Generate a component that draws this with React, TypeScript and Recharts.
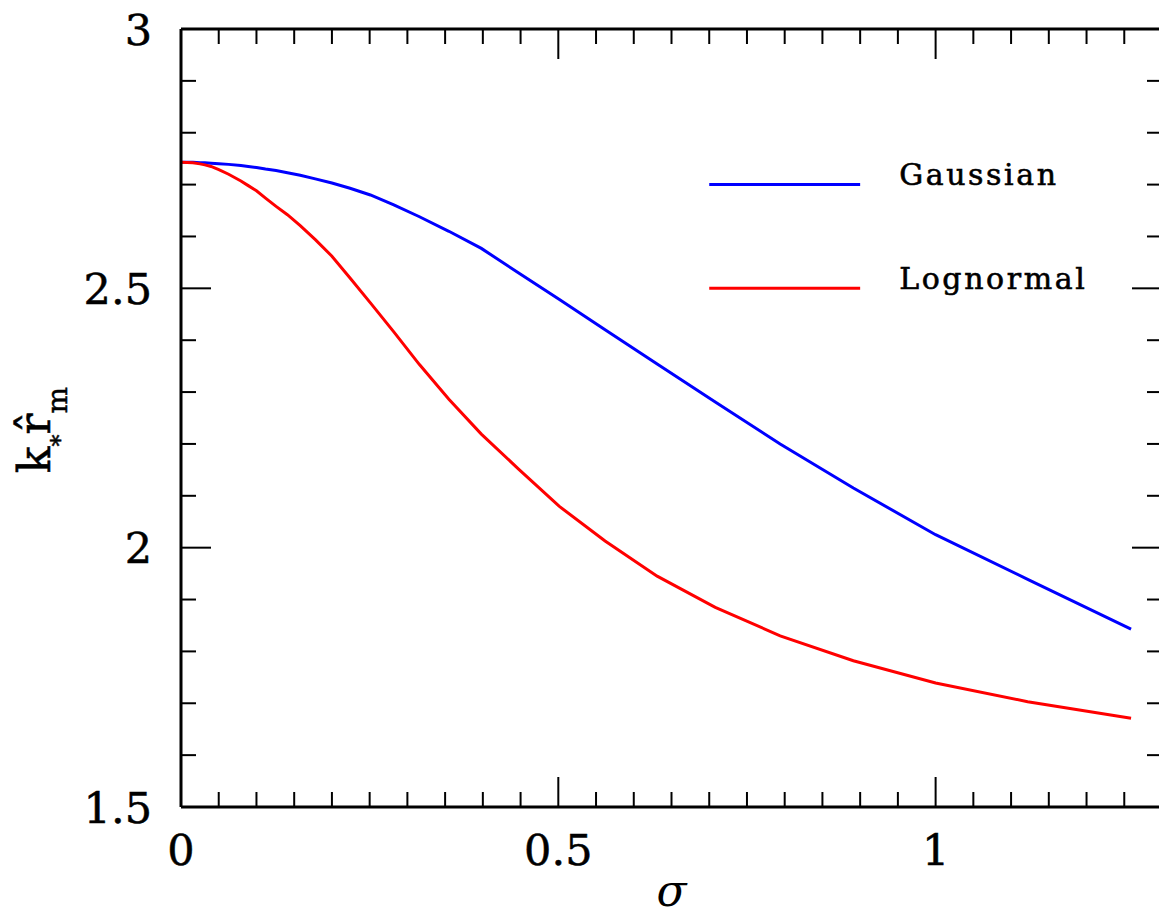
import { Label, Line, LineChart, ReferenceLine, XAxis, YAxis } from "recharts";

// sigma samples (log spaced)
const sigma = [
  0, 0.0158, 0.0251, 0.0316, 0.0398, 0.0501, 0.0631, 0.0794, 0.0891, 0.1,
  0.112, 0.126, 0.141, 0.158, 0.178, 0.2, 0.224, 0.251, 0.282, 0.316, 0.355,
  0.398, 0.447, 0.501, 0.562, 0.631, 0.708, 0.794, 0.891, 1.0, 1.122, 1.259,
];

const gaussian = [
  2.743, 2.743, 2.742, 2.742, 2.741, 2.74, 2.739, 2.737, 2.735, 2.733, 2.73,
  2.727, 2.723, 2.718, 2.711, 2.703, 2.693, 2.68, 2.661, 2.638, 2.61, 2.577,
  2.53, 2.479, 2.42, 2.354, 2.281, 2.2, 2.115, 2.025, 1.939, 1.843,
];

const lognormal = [
  2.743, 2.742, 2.74, 2.738, 2.735, 2.729, 2.72, 2.707, 2.698, 2.688, 2.674,
  2.658, 2.642, 2.621, 2.594, 2.562, 2.52, 2.472, 2.416, 2.353, 2.286, 2.219,
  2.152, 2.08, 2.013, 1.945, 1.885, 1.83, 1.782, 1.739, 1.703, 1.671,
];

const xTicks = [
  0, 0.05, 0.1, 0.15, 0.2, 0.25, 0.3, 0.35, 0.4, 0.45, 0.5, 0.55, 0.6, 0.65,
  0.7, 0.75, 0.8, 0.85, 0.9, 0.95, 1, 1.05, 1.1, 1.15, 1.2, 1.25, 1.3,
];
const xMajor = [0, 0.5, 1];
const xMajorLabels = ["0", "0.5", "1"];

const yTicks = [
  1.5, 1.6, 1.7, 1.8, 1.9, 2, 2.1, 2.2, 2.3, 2.4, 2.5, 2.6, 2.7, 2.8, 2.9, 3,
];
const yMajor = [1.5, 2, 2.5, 3];
const yMajorLabels = ["1.5", "2", "2.5", "3"];

const legendItems = [
  { name: "Gaussian", color: "#0000ff", y: 2.7, x1: 0.7, x2: 0.9 },
  { name: "Lognormal", color: "#ff0000", y: 2.5, x1: 0.7, x2: 0.9 },
];

const rows = sigma.map((s, i) => ({
  sigma: s,
  gaussian: gaussian[i],
  lognormal: lognormal[i],
}));

const FONT = "'DejaVu Serif', serif";
const MAJOR_LEN = 30;
const MINOR_LEN = 15;

type TickProps = { x?: number; y?: number; payload?: { value: number } };

function majorIndex(v: number, majors: number[]) {
  return majors.findIndex((m) => Math.abs(m - v) < 1e-6);
}

function BottomTick({ x = 0, y = 0, payload }: TickProps) {
  const idx = majorIndex(payload?.value ?? -1, xMajor);
  return (
    <g>
      <line x1={x} x2={x} y1={y} y2={y - (idx >= 0 ? MAJOR_LEN : MINOR_LEN)} stroke="#000" strokeWidth={2} />
      {idx >= 0 && (
        <text x={x} y={y + 58} textAnchor="middle" fontFamily={FONT} fontSize={43} fill="#000" stroke="#000" strokeWidth={0.5}>
          {xMajorLabels[idx]}
        </text>
      )}
    </g>
  );
}

function TopTick({ x = 0, y = 0, payload }: TickProps) {
  const idx = majorIndex(payload?.value ?? -1, xMajor);
  return <line x1={x} x2={x} y1={y} y2={y + (idx >= 0 ? MAJOR_LEN : MINOR_LEN)} stroke="#000" strokeWidth={2} />;
}

function LeftTick({ x = 0, y = 0, payload }: TickProps) {
  const idx = majorIndex(payload?.value ?? -1, yMajor);
  return (
    <g>
      <line x1={x} x2={x + (idx >= 0 ? MAJOR_LEN : MINOR_LEN)} y1={y} y2={y} stroke="#000" strokeWidth={2} />
      {idx >= 0 && (
        <text x={x - 29} y={y + 15.5} textAnchor="end" fontFamily={FONT} fontSize={43} fill="#000" stroke="#000" strokeWidth={0.5}>
          {yMajorLabels[idx]}
        </text>
      )}
    </g>
  );
}

function RightTick({ x = 0, y = 0, payload }: TickProps) {
  const idx = majorIndex(payload?.value ?? -1, yMajor);
  return <line x1={x} x2={x - (idx >= 0 ? MAJOR_LEN : MINOR_LEN)} y1={y} y2={y} stroke="#000" strokeWidth={2} />;
}

function YTitle(props: any) {
  const vb = props?.viewBox ?? { x: 0, y: 29, width: 181, height: 778 };
  const cx = vb.x + 50;
  const cy = vb.y + vb.height / 2 + 12;
  return (
    <text
      x={cx}
      y={cy}
      transform={`rotate(-90 ${cx} ${cy})`}
      textAnchor="middle"
      fontFamily={FONT}
      fontSize={44}
      fill="#000"
      stroke="#000"
      strokeWidth={0.5}
    >
      k
      <tspan fontSize={24} dy={18}>*</tspan>
      <tspan dy={-18}>{"r\u0302"}</tspan>
      <tspan fontSize={28} dy={17}>m</tspan>
    </text>
  );
}

function legendText(name: string) {
  return (props: any) => {
    const vb = props?.viewBox;
    if (!vb) return null;
    return (
      <text
        x={vb.x + vb.width + 39}
        y={vb.y + 0.5}
        fontFamily={FONT}
        fontSize={30}
        letterSpacing={2.6}
        fill="#000"
        stroke="#000"
        strokeWidth={0.6}
      >
        {name}
      </text>
    );
  };
}

const axisLine = { stroke: "#000", strokeWidth: 3 };

export default function App() {
  return (
    <div
      style={{
        position: "absolute",
        left: 0,
        top: 0,
        width: 1159,
        height: 916,
        overflow: "hidden",
        background: "#fff",
      }}
    >
      <LineChart
        width={1175}
        height={916}
        data={rows}
        margin={{ top: 28, right: 12, bottom: 0, left: 0 }}
      >
        <XAxis
          xAxisId="bottom"
          dataKey="sigma"
          type="number"
          domain={[0, 1.3]}
          ticks={xTicks}
          interval={0}
          height={109}
          tickSize={0}
          tickMargin={0}
          tickLine={false}
          axisLine={axisLine}
          tick={(p: TickProps) => <BottomTick {...p} />}
        >
          <Label
            value="σ"
            position="insideBottom"
            offset={10}
            fontFamily={FONT}
            fontStyle="italic"
            fontSize={44}
            fill="#000"
          />
        </XAxis>
        <XAxis
          xAxisId="top"
          orientation="top"
          dataKey="sigma"
          type="number"
          domain={[0, 1.3]}
          ticks={xTicks}
          interval={0}
          height={1}
          tickSize={0}
          tickMargin={0}
          tickLine={false}
          axisLine={axisLine}
          tick={(p: TickProps) => <TopTick {...p} />}
        />
        <YAxis
          yAxisId="left"
          dataKey="gaussian"
          type="number"
          domain={[1.5, 3]}
          ticks={yTicks}
          interval={0}
          width={181}
          tickSize={0}
          tickMargin={0}
          tickLine={false}
          axisLine={axisLine}
          tick={(p: TickProps) => <LeftTick {...p} />}
          label={YTitle}
        />
        <YAxis
          yAxisId="right"
          orientation="right"
          dataKey="gaussian"
          type="number"
          domain={[1.5, 3]}
          ticks={yTicks}
          interval={0}
          width={1}
          tickSize={0}
          tickMargin={0}
          tickLine={false}
          axisLine={axisLine}
          tick={(p: TickProps) => <RightTick {...p} />}
        />
        {legendItems.map((item) => (
          <ReferenceLine
            key={item.name}
            xAxisId="bottom"
            yAxisId="left"
            segment={[
              { x: item.x1, y: item.y },
              { x: item.x2, y: item.y },
            ]}
            stroke={item.color}
            strokeWidth={3}
            ifOverflow="visible"
            label={legendText(item.name)}
          />
        ))}
        <Line
          xAxisId="bottom"
          yAxisId="left"
          type="linear"
          dataKey="gaussian"
          stroke="#0000ff"
          strokeWidth={3}
          dot={false}
          isAnimationActive={false}
        />
        <Line
          xAxisId="bottom"
          yAxisId="left"
          type="linear"
          dataKey="lognormal"
          stroke="#ff0000"
          strokeWidth={3}
          dot={false}
          isAnimationActive={false}
        />
      </LineChart>
    </div>
  );
}
